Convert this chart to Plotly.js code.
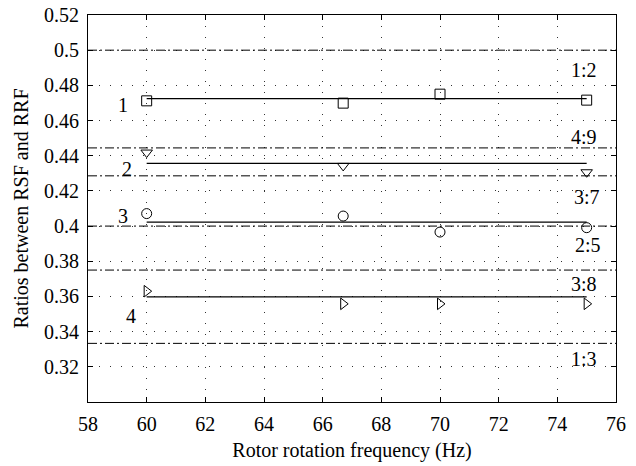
<!DOCTYPE html>
<html>
<head>
<meta charset="utf-8">
<script src="https://cdn.plot.ly/plotly-3.0.1.min.js"></script>
<style>html,body{margin:0;padding:0;background:#fff;}#chart{width:636px;height:466px;}</style>
</head>
<body>
<div id="chart"></div>
<script>
// Rotor rotation frequency (Hz)
var freqs = [60, 66.7, 70, 75];
// Measured ratios between RSF and RRF
var series1 = [0.4712, 0.4699, 0.4750, 0.4716]; // squares
var series2Freqs = [60, 66.7, 75];
var series2 = [0.4418, 0.4342, 0.4306];         // down triangles
var series3 = [0.4071, 0.4057, 0.3966, 0.3991]; // circles
var series4 = [0.3630, 0.3558, 0.3558, 0.3558]; // right triangles
// Mean (fitted) levels
var fitLevels = [0.4725, 0.4357, 0.4022, 0.3598];
var fitFreqs = [60, 75];
var seriesNames = ['1', '2', '3', '4'];
// Rational reference ratios
var ratioValues = [1/2, 4/9, 3/7, 2/5, 3/8, 1/3];
var ratioLabels = ['1:2', '4:9', '3:7', '2:5', '3:8', '1:3'];
// Axis ticks
var xTicks = [58, 60, 62, 64, 66, 68, 70, 72, 74, 76];
var yTicks = [0.32, 0.34, 0.36, 0.38, 0.4, 0.42, 0.44, 0.46, 0.48, 0.5, 0.52];
var yTickText = ['0.32', '0.34', '0.36', '0.38', '0.4', '0.42', '0.44', '0.46', '0.48', '0.5', '0.52'];

var FONT = '"Liberation Serif", serif';
var FS = 20;
var traces = [];
fitLevels.forEach(function (v) {
  traces.push({x: fitFreqs, y: [v, v], mode: 'lines', line: {color: '#000', width: 1.2}, hoverinfo: 'skip', showlegend: false});
});
function mk(x, y, sym) {
  return {x: x, y: y, mode: 'markers', showlegend: false,
    marker: {symbol: sym, size: 10, color: '#000', line: {color: '#000', width: 1}}};
}
traces.push(mk(freqs, series1, 'square-open'));
traces.push(mk(series2Freqs, series2, 'triangle-down-open'));
traces.push(mk(freqs, series3, 'circle-open'));
traces.push(mk(freqs, series4, 'triangle-right-open'));

var shapes = ratioValues.map(function (v) {
  return {type: 'line', xref: 'paper', x0: 0, x1: 1, yref: 'y', y0: v, y1: v,
    line: {color: '#000', width: 1, dash: '9px,3px,2px,3px'}};
});

var ratioLabelY = [0.4889, 0.4509, 0.4168, 0.3895, 0.3668, 0.3242];
var ratioLabelX = [74.9, 74.9, 75.0, 75.05, 74.9, 74.9];
var annotations = ratioLabels.map(function (t, i) {
  return {x: ratioLabelX[i], y: ratioLabelY[i], text: t, showarrow: false,
    font: {family: FONT, size: FS, color: '#000'}};
});
var nameX = [59.18, 59.32, 59.18, 59.47];
var nameY = [0.4690, 0.4325, 0.4056, 0.3491];
seriesNames.forEach(function (t, i) {
  annotations.push({x: nameX[i], y: nameY[i], text: t, showarrow: false,
    font: {family: FONT, size: FS, color: '#000'}});
});

var axisCommon = {
  showline: true, linecolor: '#000', linewidth: 1, mirror: 'ticks',
  ticks: 'inside', ticklen: 5, tickcolor: '#000', tickwidth: 1,
  showgrid: true, gridcolor: '#333', gridwidth: 1, griddash: '1px,10px',
  zeroline: false, tickfont: {family: FONT, size: FS, color: '#000'}
};
var layout = {
  width: 636, height: 466,
  margin: {l: 88, r: 20, t: 15, b: 64},
  paper_bgcolor: '#fff', plot_bgcolor: '#fff',
  font: {family: FONT, color: '#000'},
  xaxis: Object.assign({}, axisCommon, {
    range: [58, 76], tickvals: xTicks, ticktext: xTicks.map(String),
    ticklabelstandoff: 4,
    title: {text: 'Rotor rotation frequency (Hz)', font: {family: FONT, size: FS, color: '#000'}, standoff: 8}
  }),
  yaxis: Object.assign({}, axisCommon, {
    range: [0.30, 0.52], tickvals: yTicks, ticktext: yTickText,
    ticklabelstandoff: 4,
    title: {text: 'Ratios between RSF and RRF', font: {family: FONT, size: FS, color: '#000'}, standoff: 10}
  }),
  shapes: shapes,
  annotations: annotations,
  showlegend: false
};
Plotly.newPlot('chart', traces, layout, {staticPlot: true, displayModeBar: false});
</script>
</body>
</html>
